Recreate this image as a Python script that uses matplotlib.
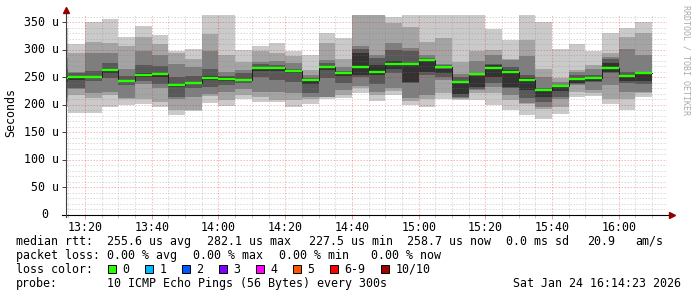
from datetime import datetime, timedelta

import matplotlib
matplotlib.use('Agg')
from matplotlib import pyplot as plt
from matplotlib import dates as mdates
from matplotlib.patches import Rectangle
from matplotlib.ticker import MultipleLocator

# one 5 minute slot per row, first one is only partly visible
first_slot = datetime(2026, 1, 24, 13, 10)
slot = timedelta(minutes=5)
view_start = datetime(2026, 1, 24, 13, 14, 23)
view_end = datetime(2026, 1, 24, 16, 14, 23)

# sorted rtt of the 10 pings in each slot (us)
pings = [
    [197, 205, 215, 230, 242, 252, 265, 285, 310, 339],
    [186, 218, 228, 231, 246, 252, 257, 260, 294, 311],
    [186, 212, 222, 244, 249, 253, 261, 295, 314, 350],
    [196, 218, 224, 248, 258, 265, 276, 294, 312, 356],
    [200, 210, 213, 236, 241, 246, 252, 265, 306, 323],
    [202, 210, 238, 243, 250, 257, 272, 297, 324, 343],
    [196, 206, 230, 237, 250, 258, 270, 291, 311, 327],
    [182, 191, 211, 214, 232, 238, 251, 275, 295, 297],
    [188, 191, 214, 230, 238, 242, 252, 269, 283, 301],
    [203, 216, 220, 233, 245, 252, 266, 297, 329, 368],
    [198, 208, 224, 236, 244, 250, 253, 260, 291, 368],
    [210, 218, 228, 239, 243, 247, 257, 264, 277, 300],
    [206, 214, 224, 251, 262, 268, 275, 278, 297, 306],
    [206, 208, 224, 245, 262, 269, 272, 279, 295, 312],
    [197, 209, 221, 242, 258, 264, 265, 276, 289, 297],
    [201, 210, 214, 222, 237, 247, 248, 255, 263, 291],
    [210, 214, 215, 248, 263, 270, 276, 282, 312, 330],
    [212, 218, 227, 239, 252, 260, 261, 269, 284, 321],
    [221, 230, 234, 250, 254, 295, 302, 307, 368, 370],
    [207, 218, 224, 237, 254, 272, 285, 291, 365, 368],
    [218, 225, 230, 258, 266, 280, 300, 312, 349, 359],
    [200, 207, 212, 240, 242, 273, 297, 303, 342, 368],
    [197, 210, 218, 255, 260, 282, 285, 291, 315, 368],
    [210, 221, 245, 250, 258, 266, 272, 275, 321, 368],
    [209, 210, 213, 215, 220, 244, 251, 256, 278, 368],
    [209, 222, 227, 228, 232, 253, 257, 280, 298, 368],
    [199, 221, 232, 240, 251, 272, 275, 291, 300, 338],
    [191, 209, 218, 230, 232, 263, 269, 281, 284, 317],
    [182, 202, 204, 212, 227, 248, 254, 288, 317, 368],
    [174, 193, 197, 206, 214, 226, 230, 251, 266, 350],
    [183, 197, 210, 214, 226, 234, 236, 242, 248, 301],
    [214, 224, 236, 238, 240, 248, 254, 260, 263, 311],
    [216, 222, 227, 241, 244, 250, 255, 265, 272, 297],
    [202, 210, 236, 257, 259, 276, 284, 287, 295, 330],
    [191, 210, 224, 240, 244, 254, 260, 301, 324, 340],
    [214, 221, 224, 238, 244, 257, 260, 291, 331, 350],
]
median_rtt = [248, 251, 251, 262.7, 243.3, 254.9, 255.5, 236.1, 240.3,
              248.8, 247.6, 245.2, 266.4, 266.4, 261.5, 245.2, 268.2,
              257.3, 268.2, 259.7, 274.2, 274.2, 281.5, 269.4, 241.5,
              255.5, 266.4, 260.3, 245.2, 226.4, 234.3, 246.4, 248.2,
              267, 251.8, 258.5]

loss_labels = ['0', '1', '2', '3', '4', '5', '6-9', '10/10']
loss_colors = ['#26ff00', '#00b8ff', '#0059ff', '#7e00ff', '#ff00ff',
               '#ff5500', '#ff0000', '#a10000']

legend_lines = [
    [('median rtt:', 16), ('255.6 us avg', 107), ('282.1 us max', 207),
     ('227.5 us min', 309), ('258.7 us now', 407), ('0.0 ms sd', 506),
     ('20.9', 587), ('am/s', 635)],
    [('packet loss:', 16), ('0.00 % avg', 107), ('0.00 % max', 193),
     ('0.00 % min', 279), ('0.00 % now', 371)],
    [('loss color:', 16)],
    [('probe:', 16), ('10 ICMP Echo Pings (56 Bytes) every 300s', 107),
     ('Sat Jan 24 16:14:23 2026', 513)],
]

W, H = 697, 297
MONO = 'DejaVu Sans Mono'
FS = 8.4
CHAR = 7.02

smoke_colors = ['#cacaca', '#a4a4a4', '#7e7e7e', '#585858', '#323232']


def main():
    fig = plt.figure(figsize=(W / 100, H / 100), dpi=100)
    fig.patch.set_facecolor('white')
    ax = fig.add_axes([66.3 / W, 1 - 215 / H, 600.5 / W, 200 / H])

    starts = [mdates.date2num(first_slot + i * slot) for i in range(len(pings))]
    width = 1 / 288

    # smoke: nested bands between ping i and ping n-1-i
    n = len(pings[0])
    for i, color in enumerate(smoke_colors):
        lo = [row[i] for row in pings]
        hi = [row[n - 1 - i] for row in pings]
        ax.bar(starts, [h - l for h, l in zip(hi, lo)], bottom=lo,
               width=width, align='edge', color=color, linewidth=0,
               antialiased=False, zorder=1)

    edges = starts + [starts[-1] + width]
    ax.step(edges, median_rtt + [median_rtt[-1]], where='post',
            color='#202020', linewidth=0.7, zorder=3)
    ax.hlines(median_rtt, starts, [s + width for s in starts],
              color=loss_colors[0], linewidth=1.7, zorder=4)

    ax.set_xlim(mdates.date2num(view_start), mdates.date2num(view_end))
    ax.set_ylim(0, 363.2)

    ax.xaxis.set_major_locator(mdates.MinuteLocator(byminute=[0, 20, 40]))
    ax.xaxis.set_minor_locator(mdates.MinuteLocator(byminute=range(0, 60, 5)))
    ax.xaxis.set_major_formatter(mdates.DateFormatter('%H:%M'))
    ax.yaxis.set_major_locator(MultipleLocator(50))
    ax.yaxis.set_minor_locator(MultipleLocator(10))

    ax.set_axisbelow(False)
    ax.grid(which='minor', color='#808080', alpha=0.28, linewidth=0.72,
            linestyle=(0, (1.5, 1.5)))
    ax.grid(which='major', color='#ff0000', alpha=0.28, linewidth=0.72,
            linestyle=(0, (1.5, 1.5)))

    ax.tick_params(axis='x', which='major', length=3, width=0.7,
                   color='#ff9090', pad=1.5, labelsize=FS)
    ax.tick_params(axis='x', which='minor', length=2, width=0.7,
                   color='#c8c8c8')
    ax.tick_params(axis='y', which='major', length=3, width=0.7,
                   color='#404040', labelleft=False)
    ax.tick_params(axis='y', which='minor', length=0)
    for label in ax.get_xticklabels():
        label.set_family(MONO)

    for spine in ax.spines.values():
        spine.set_visible(False)
    ax.plot([-0.007, 1.004], [0, 0], transform=ax.transAxes, color='black',
            linewidth=0.8, clip_on=False, zorder=5)
    ax.plot([0, 0], [-0.01, 1.015], transform=ax.transAxes, color='#404040',
            linewidth=0.8, clip_on=False, zorder=5)
    ax.plot([1.0085], [0], marker='>', markersize=4, color='#900000',
            transform=ax.transAxes, clip_on=False, zorder=6)
    ax.plot([0], [1.025], marker='^', markersize=4, color='#900000',
            transform=ax.transAxes, clip_on=False, zorder=6)

    # y labels
    ylab = ax.get_yaxis_transform()
    for v in range(0, 351, 50):
        if v == 0:
            ax.text((45 - 66.3) / 600.5, v, '0', ha='center', va='center',
                    family=MONO, fontsize=FS, transform=ylab)
        else:
            ax.text((59 - 66.3) / 600.5, v, f'{v} u', ha='right',
                    va='center', family=MONO, fontsize=FS, transform=ylab)

    fig.text(11 / W, 1 - 112 / H, 'Seconds', rotation=90, ha='center',
             va='center', family=MONO, fontsize=FS)
    fig.text(686 / W, 1 - 60 / H, 'RRDTOOL / TOBI OETIKER', rotation=270,
             ha='center', va='center', family=MONO, fontsize=6,
             color='#aaaaaa')

    line_y = [241.5, 255.3, 269.3, 283.3]
    for items, y in zip(legend_lines, line_y):
        for text, x in items:
            fig.text(x / W, 1 - y / H, text, ha='left', va='center',
                     family=MONO, fontsize=FS)

    # loss colour swatches
    x = 108.3
    for label, color in zip(loss_labels, loss_colors):
        fig.patches.append(Rectangle((x / W, 1 - 272.5 / H), 8 / W, 8 / H,
                                     transform=fig.transFigure,
                                     facecolor=color, edgecolor='black',
                                     linewidth=0.7))
        fig.text((x + 14) / W, 1 - 269.3 / H, label, ha='left', va='center',
                 family=MONO, fontsize=FS)
        x += 37 + CHAR * (len(label) - 1)

    fig.savefig('out.png', dpi=100)


if __name__ == '__main__':
    main()
